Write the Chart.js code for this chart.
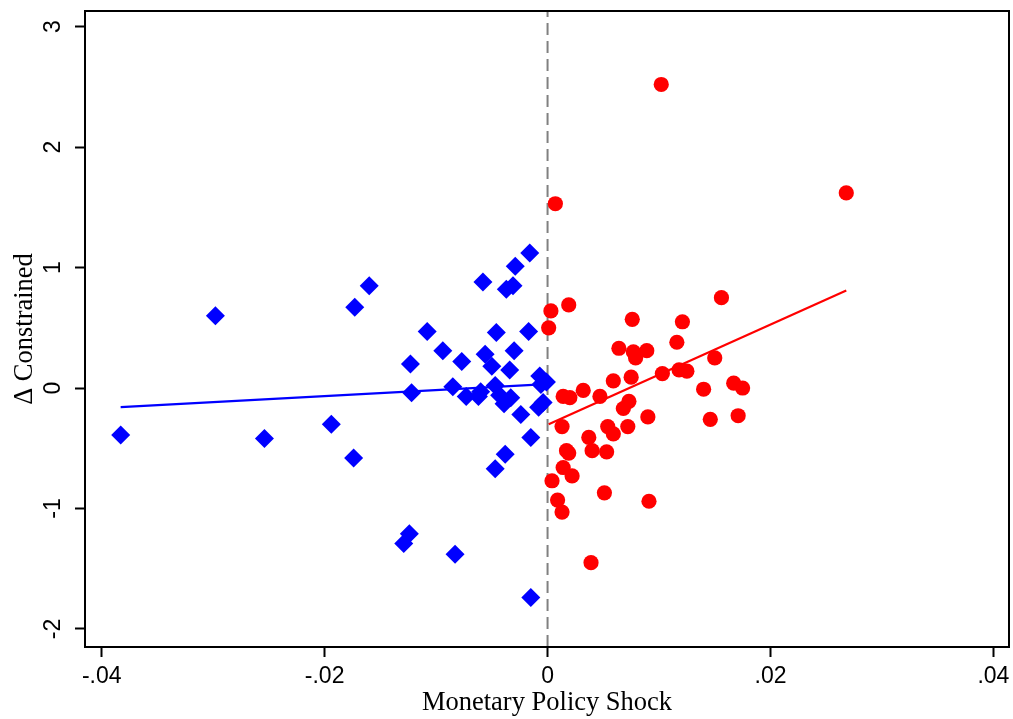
<!DOCTYPE html>
<html>
<head>
<meta charset="utf-8">
<script src="https://cdn.jsdelivr.net/npm/chart.js@4/dist/chart.umd.min.js"></script>
<style>
  html, body { margin: 0; padding: 0; background: #fff; }
  canvas { display: block; }
</style>
</head>
<body>
<canvas id="c" width="1013" height="719"></canvas>
<script>
// Negative shocks (blue diamonds)
const negShock = [-0.0383,-0.0298,-0.0254,-0.0194,-0.0173,-0.0174,-0.0160,-0.0129,-0.0124,-0.0123,-0.0122,-0.0108,-0.0094,-0.0083,-0.0077,-0.0085,-0.0073,-0.0062,-0.0060,-0.0058,-0.0056,-0.0050,-0.0046,-0.0047,-0.0043,-0.0039,-0.0047,-0.0038,-0.0037,-0.0031,-0.0029,-0.0030,-0.0034,-0.0033,-0.0024,-0.0016,-0.0017,-0.0015,-0.0015,-0.0007,-0.0006,-0.0001,-0.0008,-0.0004];
const negDelta = [-0.39,0.60,-0.42,-0.30,0.67,-0.58,0.85,-1.29,-1.21,0.20,-0.04,0.47,0.31,-1.38,0.22,0.01,-0.07,-0.07,-0.03,0.88,0.28,0.18,0.46,0.02,-0.06,-0.13,-0.67,-0.55,0.82,0.85,1.01,0.31,0.15,-0.08,-0.22,1.12,0.47,-0.41,-1.74,0.10,0.03,0.05,-0.16,-0.12];
// Positive shocks (red circles)
const posShock = [0.0102,0.0268,0.0007,0.0003,0.0001,0.0019,0.0076,0.0121,0.0156,0.0064,0.0077,0.0079,0.0089,0.0116,0.0150,0.0059,0.0075,0.0103,0.0118,0.0125,0.0140,0.0167,0.0175,0.0146,0.0171,0.0014,0.0020,0.0032,0.0047,0.0068,0.0073,0.0090,0.0013,0.0054,0.0059,0.0072,0.0037,0.0040,0.0053,0.0017,0.0019,0.0014,0.0022,0.0004,0.0051,0.0091,0.0009,0.0013,0.0039];
const posDelta = [2.52,1.62,1.53,0.64,0.50,0.69,0.57,0.55,0.75,0.33,0.30,0.25,0.31,0.38,0.25,0.06,0.09,0.12,0.15,0.14,-0.01,0.04,0.00,-0.26,-0.23,-0.07,-0.08,-0.02,-0.07,-0.17,-0.11,-0.24,-0.32,-0.32,-0.38,-0.32,-0.41,-0.52,-0.53,-0.52,-0.54,-0.66,-0.73,-0.77,-0.87,-0.94,-0.93,-1.03,-1.45];
// Fitted lines (endpoints)
const negFitX = [-0.0383, -0.0001];
const negFitY = [-0.158, 0.032];
const posFitX = [0.0001, 0.0268];
const posFitY = [-0.30, 0.81];
// Ticks
const xTicks = [-0.04, -0.02, 0, 0.02, 0.04];
const xTickLabels = ['-.04', '-.02', '0', '.02', '.04'];
const yTicks = [-2, -1, 0, 1, 2, 3];
const yTickLabels = ['-2', '-1', '0', '1', '2', '3'];

const toPts = (xs, ys) => xs.map((x, i) => ({x: x, y: ys[i]}));
const SERIF = "'Liberation Serif', 'DejaVu Serif', serif";
const SANS = "'Liberation Sans', Arial, sans-serif";

const framePlugin = {
  id: 'frame',
  beforeDatasetsDraw(chart) {
    const {ctx, chartArea: a, scales} = chart;
    const px = scales.x.getPixelForValue(0);
    ctx.save();
    ctx.strokeStyle = '#808080';
    ctx.lineWidth = 2;
    ctx.setLineDash([12, 6]);
    ctx.beginPath();
    ctx.moveTo(px, a.bottom);
    ctx.lineTo(px, a.top);
    ctx.stroke();
    ctx.restore();
  },
  afterDraw(chart) {
    const {ctx, chartArea: a, scales} = chart;
    ctx.save();
    ctx.strokeStyle = '#000';
    ctx.lineWidth = 2;
    ctx.strokeRect(a.left, a.top, a.right - a.left, a.bottom - a.top);
    // rotated y tick labels
    ctx.fillStyle = '#000';
    ctx.font = '23px ' + SANS;
    ctx.textAlign = 'center';
    ctx.textBaseline = 'middle';
    yTicks.forEach((v, i) => {
      const py = scales.y.getPixelForValue(v);
      ctx.save();
      ctx.translate(54, py);
      ctx.rotate(-Math.PI / 2);
      ctx.fillText(yTickLabels[i], 0, 0);
      ctx.restore();
    });
    ctx.restore();
  }
};

new Chart(document.getElementById('c'), {
  type: 'scatter',
  data: {
    datasets: [
      {
        label: 'Negative shock',
        data: toPts(negShock, negDelta),
        pointStyle: 'rectRot',
        pointRadius: 9.5,
        backgroundColor: '#0000ff',
        borderColor: '#0000ff',
        borderWidth: 0
      },
      {
        label: 'Positive shock',
        data: toPts(posShock, posDelta),
        pointStyle: 'circle',
        pointRadius: 7.6,
        backgroundColor: '#ff0000',
        borderColor: '#ff0000',
        borderWidth: 0
      },
      {
        label: 'Fit negative',
        data: toPts(negFitX, negFitY),
        showLine: true,
        pointRadius: 0,
        borderColor: '#0000ff',
        borderWidth: 2.2,
        fill: false
      },
      {
        label: 'Fit positive',
        data: toPts(posFitX, posFitY),
        showLine: true,
        pointRadius: 0,
        borderColor: '#ff0000',
        borderWidth: 2.2,
        fill: false
      }
    ]
  },
  options: {
    responsive: false,
    animation: false,
    devicePixelRatio: 1,
    layout: { autoPadding: false, padding: { top: 11, right: 4, left: 0, bottom: 0 } },
    plugins: { legend: { display: false }, tooltip: { enabled: false } },
    scales: {
      x: {
        type: 'linear',
        min: -0.0415,
        max: 0.0414,
        afterBuildTicks: (s) => { s.ticks = xTicks.map(v => ({value: v})); },
        afterFit: (s) => { s.height = 72; s.paddingLeft = 0; s.paddingRight = 0; },
        ticks: {
          autoSkip: false,
          maxRotation: 0,
          padding: 6,
          color: '#000',
          font: { family: SANS, size: 23 },
          callback: (v) => { const i = xTicks.findIndex(t => Math.abs(t - v) < 1e-9); return i >= 0 ? xTickLabels[i] : ''; }
        },
        grid: { display: true, drawOnChartArea: false, drawTicks: true, tickLength: 10, tickWidth: 2, color: '#000' },
        border: { display: true, color: '#000', width: 2 },
        title: { display: true, text: 'Monetary Policy Shock', color: '#000', font: { family: SERIF, size: 26.5 }, padding: { top: 0, bottom: 0 } }
      },
      y: {
        type: 'linear',
        min: -2.15,
        max: 3.13,
        afterBuildTicks: (s) => { s.ticks = yTicks.map(v => ({value: v})); },
        afterFit: (s) => { s.width = 85; s.paddingTop = 0; s.paddingBottom = 0; },
        ticks: { display: false, autoSkip: false },
        grid: { display: true, drawOnChartArea: false, drawTicks: true, tickLength: 10, tickWidth: 2, color: '#000' },
        border: { display: true, color: '#000', width: 2 },
        title: { display: true, text: 'Δ Constrained', color: '#000', font: { family: SERIF, size: 26.5 }, padding: { top: 9, bottom: 0 } }
      }
    }
  },
  plugins: [framePlugin]
});
</script>
</body>
</html>
